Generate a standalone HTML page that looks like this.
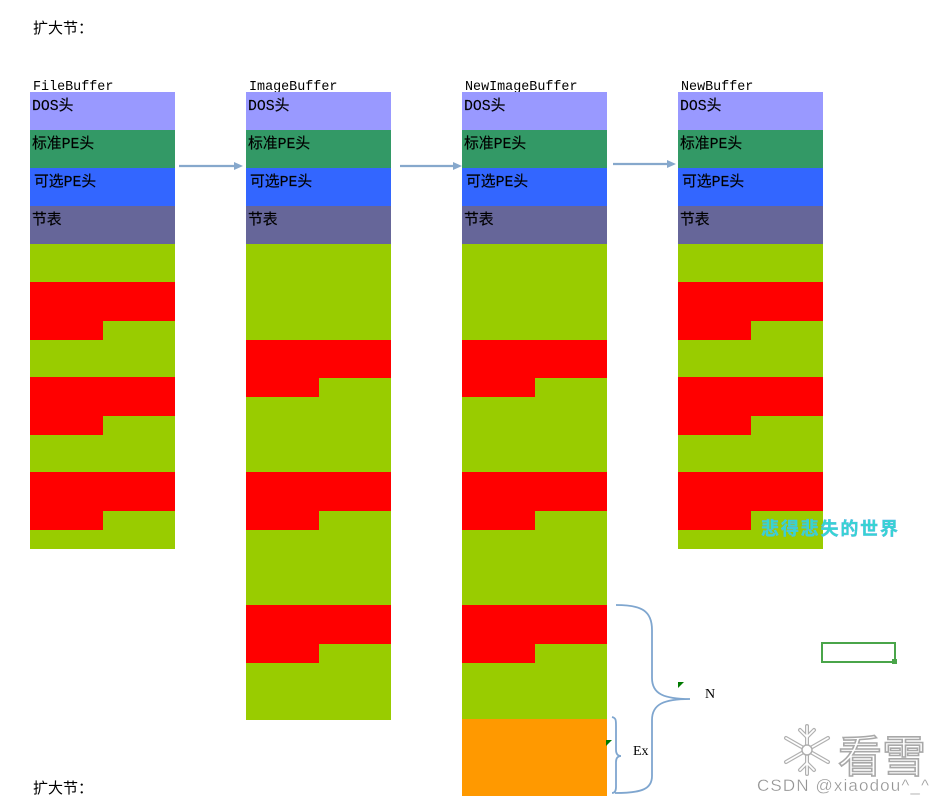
<!DOCTYPE html>
<html><head><meta charset="utf-8"><style>
html,body{margin:0;padding:0;background:#fff;}
svg{display:block;}
</style></head><body>
<svg width="945" height="803" viewBox="0 0 945 803" xmlns="http://www.w3.org/2000/svg">
<rect width="945" height="803" fill="#fff"/>
<g font-family="'Liberation Mono','Noto Sans CJK SC',monospace" fill="#000">
<text x="33" y="33" font-size="15" font-family="'Noto Sans CJK SC',sans-serif">扩大节：</text>
<text x="33" y="793" font-size="15" font-family="'Noto Sans CJK SC',sans-serif">扩大节：</text>
<text x="33" y="90" font-size="13.4">FileBuffer</text>
<text x="249" y="90" font-size="13.4">ImageBuffer</text>
<text x="465" y="90" font-size="13.4">NewImageBuffer</text>
<text x="681" y="90" font-size="13.4">NewBuffer</text>
</g>

<rect x="30" y="92" width="145" height="38" fill="#9999ff"/>
<rect x="30" y="130" width="145" height="38" fill="#339966"/>
<rect x="30" y="168" width="145" height="38" fill="#3366ff"/>
<rect x="30" y="206" width="145" height="38" fill="#666699"/>
<rect x="246" y="92" width="145" height="38" fill="#9999ff"/>
<rect x="246" y="130" width="145" height="38" fill="#339966"/>
<rect x="246" y="168" width="145" height="38" fill="#3366ff"/>
<rect x="246" y="206" width="145" height="38" fill="#666699"/>
<rect x="462" y="92" width="145" height="38" fill="#9999ff"/>
<rect x="462" y="130" width="145" height="38" fill="#339966"/>
<rect x="462" y="168" width="145" height="38" fill="#3366ff"/>
<rect x="462" y="206" width="145" height="38" fill="#666699"/>
<rect x="678" y="92" width="145" height="38" fill="#9999ff"/>
<rect x="678" y="130" width="145" height="38" fill="#339966"/>
<rect x="678" y="168" width="145" height="38" fill="#3366ff"/>
<rect x="678" y="206" width="145" height="38" fill="#666699"/>

<rect x="30" y="244" width="145" height="305" fill="#99cc00"/>
<rect x="30" y="282" width="145" height="39" fill="#ff0000"/>
<rect x="30" y="321" width="73" height="19" fill="#ff0000"/>
<rect x="30" y="377" width="145" height="39" fill="#ff0000"/>
<rect x="30" y="416" width="73" height="19" fill="#ff0000"/>
<rect x="30" y="472" width="145" height="39" fill="#ff0000"/>
<rect x="30" y="511" width="73" height="19" fill="#ff0000"/>

<rect x="678" y="244" width="145" height="305" fill="#99cc00"/>
<rect x="678" y="282" width="145" height="39" fill="#ff0000"/>
<rect x="678" y="321" width="73" height="19" fill="#ff0000"/>
<rect x="678" y="377" width="145" height="39" fill="#ff0000"/>
<rect x="678" y="416" width="73" height="19" fill="#ff0000"/>
<rect x="678" y="472" width="145" height="39" fill="#ff0000"/>
<rect x="678" y="511" width="73" height="19" fill="#ff0000"/>

<rect x="246" y="244" width="145" height="476" fill="#99cc00"/>
<rect x="246" y="340" width="145" height="38" fill="#ff0000"/>
<rect x="246" y="378" width="73" height="19" fill="#ff0000"/>
<rect x="246" y="472" width="145" height="39" fill="#ff0000"/>
<rect x="246" y="511" width="73" height="19" fill="#ff0000"/>
<rect x="246" y="605" width="145" height="39" fill="#ff0000"/>
<rect x="246" y="644" width="73" height="19" fill="#ff0000"/>

<rect x="462" y="244" width="145" height="475" fill="#99cc00"/>
<rect x="462" y="340" width="145" height="38" fill="#ff0000"/>
<rect x="462" y="378" width="73" height="19" fill="#ff0000"/>
<rect x="462" y="472" width="145" height="39" fill="#ff0000"/>
<rect x="462" y="511" width="73" height="19" fill="#ff0000"/>
<rect x="462" y="605" width="145" height="39" fill="#ff0000"/>
<rect x="462" y="644" width="73" height="19" fill="#ff0000"/>
<rect x="462" y="719" width="145" height="77" fill="#ff9900"/>

<g font-family="'Liberation Mono','Noto Sans CJK SC',monospace" font-size="14.8" fill="#000" stroke="#000" stroke-width="0.15">
<text x="32" y="110">DOS头</text>
<text x="32" y="148">标准PE头</text>
<text x="34" y="186">可选PE头</text>
<text x="32" y="224">节表</text>
<text x="248" y="110">DOS头</text>
<text x="248" y="148">标准PE头</text>
<text x="250" y="186">可选PE头</text>
<text x="248" y="224">节表</text>
<text x="464" y="110">DOS头</text>
<text x="464" y="148">标准PE头</text>
<text x="466" y="186">可选PE头</text>
<text x="464" y="224">节表</text>
<text x="680" y="110">DOS头</text>
<text x="680" y="148">标准PE头</text>
<text x="682" y="186">可选PE头</text>
<text x="680" y="224">节表</text>
</g>

<g stroke="#86a8cc" stroke-width="2.2" fill="#86a8cc">
<line x1="179" y1="166" x2="235" y2="166"/>
<polygon points="234,162 243,166 234,170" stroke="none"/>
<line x1="400" y1="166" x2="454" y2="166"/>
<polygon points="453,162 462,166 453,170" stroke="none"/>
<line x1="613" y1="164" x2="668" y2="164"/>
<polygon points="667,160 676,164 667,168" stroke="none"/>
</g>

<g fill="none" stroke="#7fa6cf" stroke-width="1.8">
<path d="M616,605 C642,605 652,611 652,630 L652,678 C652,694 664,699 690,699 C664,699 652,704 652,720 L652,776 C652,789 642,793 615,793"/>
<path d="M612,717 C616,718 616,720 616,726 L616,750 C616,754 618,756 621,756 C618,756 616,758 616,762 L616,787 C616,792 614,793 612,793"/>
</g>
<polygon points="678,682 684,682 678,688" fill="#007a00"/>
<polygon points="606,740 612,740 606,746" fill="#007a00"/>
<g font-family="'Liberation Serif',serif" font-size="14" fill="#000">
<text x="705" y="698">N</text>
<text x="633" y="755">Ex</text>
</g>

<rect x="822" y="643" width="73" height="19" fill="none" stroke="#4aa54a" stroke-width="2"/>
<rect x="892" y="659" width="5" height="5" fill="#4aa54a"/>

<text x="761" y="535" font-family="'Noto Sans CJK SC',sans-serif" font-weight="bold" font-size="18" fill="#33d8cf" stroke="#5ab0e8" stroke-width="0.4" textLength="137">悲得悲失的世界</text>

<g stroke="#b0b0b0" stroke-width="4" stroke-linecap="round">
<line x1="807" y1="726" x2="807" y2="774"/>
<line x1="786" y1="738" x2="828" y2="762"/>
<line x1="786" y1="762" x2="828" y2="738"/>
<line x1="800" y1="730" x2="807" y2="737"/>
<line x1="814" y1="730" x2="807" y2="737"/>
<line x1="800" y1="770" x2="807" y2="763"/>
<line x1="814" y1="770" x2="807" y2="763"/>
</g>
<g stroke="#fff" stroke-width="1.6" stroke-linecap="round">
<line x1="807" y1="726" x2="807" y2="774"/>
<line x1="786" y1="738" x2="828" y2="762"/>
<line x1="786" y1="762" x2="828" y2="738"/>
<line x1="800" y1="730" x2="807" y2="737"/>
<line x1="814" y1="730" x2="807" y2="737"/>
<line x1="800" y1="770" x2="807" y2="763"/>
<line x1="814" y1="770" x2="807" y2="763"/>
</g>
<circle cx="807" cy="750" r="5" fill="#fff" stroke="#b0b0b0" stroke-width="1.5"/>
<text x="838" y="772" font-family="'Noto Sans CJK SC',sans-serif" font-size="44" fill="#fff" stroke="#a8a8a8" stroke-width="1.6">看雪</text>
<text x="757" y="791" font-family="'Liberation Sans',sans-serif" font-size="17" fill="#939393" stroke="#fff" stroke-width="0.3" textLength="172">CSDN @xiaodou^_^</text>
</svg>
</body></html>
